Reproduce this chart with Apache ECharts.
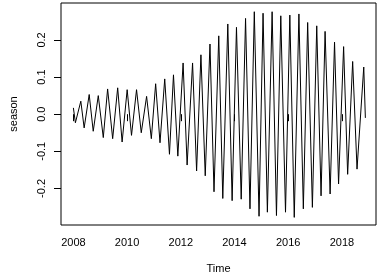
<!DOCTYPE html>
<html>
<head>
<meta charset="utf-8">
<script src="https://cdn.jsdelivr.net/npm/echarts@6/dist/echarts.min.js"></script>
<style>html,body{margin:0;padding:0;background:#fff}#c{width:380px;height:279px}</style>
</head>
<body>
<div id="c"></div>
<script>
// Time (decimal years) of each turning point of the seasonal component
var times = [2008.000,2008.075,2008.277,2008.401,2008.589,2008.739,2008.927,2009.114,2009.275,2009.463,
  2009.650,2009.815,2010.003,2010.165,2010.352,2010.528,2010.727,2010.903,2011.064,2011.226,
  2011.402,2011.578,2011.728,2011.890,2012.086,2012.236,2012.439,2012.589,2012.750,2012.911,
  2013.087,2013.237,2013.414,2013.564,2013.751,2013.912,2014.074,2014.250,2014.412,2014.577,
  2014.738,2014.914,2015.064,2015.225,2015.401,2015.563,2015.724,2015.900,2016.061,2016.226,
  2016.399,2016.564,2016.725,2016.901,2017.063,2017.224,2017.374,2017.561,2017.726,2017.876,
  2018.064,2018.214,2018.401,2018.563,2018.814,2018.874];
var season = [0.017,-0.023,0.035,-0.037,0.053,-0.046,0.050,-0.063,0.068,-0.066,
  0.071,-0.075,0.066,-0.057,0.066,-0.050,0.048,-0.066,0.082,-0.077,
  0.095,-0.108,0.106,-0.113,0.138,-0.137,0.138,-0.153,0.160,-0.166,
  0.189,-0.209,0.211,-0.227,0.243,-0.233,0.234,-0.229,0.258,-0.255,
  0.276,-0.275,0.272,-0.264,0.276,-0.273,0.265,-0.264,0.267,-0.278,
  0.270,-0.255,0.247,-0.251,0.238,-0.220,0.223,-0.215,0.194,-0.188,
  0.182,-0.162,0.142,-0.148,0.127,-0.010];
var xTicks = [2008, 2010, 2012, 2014, 2016, 2018];
var yTicks = [-0.2, -0.1, 0.0, 0.1, 0.2];

var data = times.map(function (t, i) { return [t, season[i]]; });
var font = 'Liberation Sans, Arial, sans-serif';
var chart = echarts.init(document.getElementById('c'), null, {renderer: 'canvas'});
chart.setOption({
  animation: false,
  backgroundColor: '#fff',
  grid: {left: 61, right: 4, top: 3, bottom: 53, show: true, borderColor: '#000', borderWidth: 1, backgroundColor: 'transparent'},
  xAxis: {
    type: 'value', min: 2007.539, max: 2019.27,
    name: 'Time', nameLocation: 'middle', nameGap: 38,
    nameTextStyle: {color: '#000', fontSize: 11, fontFamily: font},
    axisLine: {show: false},
    splitLine: {show: false},
    axisTick: {show: true, inside: false, length: 7, lineStyle: {color: '#000'}, customValues: xTicks},
    axisLabel: {color: '#000', fontSize: 11, fontFamily: font, margin: 12, customValues: xTicks,
      formatter: function (v) { return String(v); }}
  },
  yAxis: {
    type: 'value', min: -0.2985, max: 0.2995,
    name: 'season', nameLocation: 'middle', nameGap: 42,
    nameTextStyle: {color: '#000', fontSize: 11, fontFamily: font},
    axisLine: {show: false},
    splitLine: {show: false},
    axisTick: {show: true, inside: false, length: 7, lineStyle: {color: '#000'}, customValues: yTicks},
    axisLabel: {color: '#000', fontSize: 11, fontFamily: font, margin: 14, rotate: 90, customValues: yTicks,
      formatter: function (v) { return v.toFixed(1); }}
  },
  series: [{
    type: 'line', data: data, symbol: 'none', showSymbol: false,
    lineStyle: {color: '#000', width: 1}
  }]
});
</script>
</body>
</html>
